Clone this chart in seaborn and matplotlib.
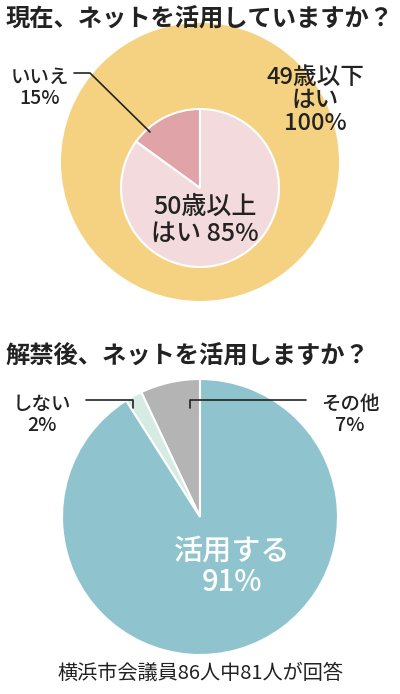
import matplotlib.pyplot as plt
import seaborn as sns

# top chart
inner_labels = ['いいえ', 'はい']
inner_values = [15, 85]
inner_colors = ['#e0a3a8', '#f3dadd']
outer_value = [100]

# bottom chart
after_labels = ['その他', 'しない', '活用する']
after_values = [7, 2, 91]
after_colors = ['#b4b4b4', '#d5ebe3', '#8fc4cf']

H = 694

def Y(y):
    return H - y

def main():
    sns.set_theme(style="white")
    plt.rcParams['font.family'] = ['Noto Sans CJK JP', 'DejaVu Sans']

    fig = plt.figure(figsize=(4, 6.94), dpi=100)
    ax = fig.add_axes([0, 0, 1, 1])
    ax.set_xlim(0, 400)
    ax.set_ylim(0, H)
    ax.set_aspect('equal')
    ax.axis('off')

    txt = '#222222'
    ax.text(6, Y(20), '現在、ネットを活用していますか？', fontsize=17.5, fontweight='bold',
            color=txt, va='center', ha='left')

    ax.pie(outer_value, colors=['#f5d281'], center=(200, Y(162)), radius=139,
           wedgeprops=dict(linewidth=0))
    ax.pie(inner_values, colors=inner_colors, center=(200, Y(188)), radius=79,
           startangle=90, counterclock=True,
           wedgeprops=dict(edgecolor='white', linewidth=1.5))

    ax.text(40, Y(88), 'いいえ\n15%', fontsize=14, fontweight='medium', color=txt,
            ha='center', va='center', linespacing=1.1)
    ax.plot([74, 90, 150], [Y(73), Y(73), Y(132)], color=txt, lw=1.2)
    ax.text(315, Y(100), '49歳以下\nはい\n100%', fontsize=17, fontweight='medium', color=txt,
            ha='center', va='center', linespacing=1.0)
    ax.text(205, Y(220), '50歳以上\nはい 85%', fontsize=18, fontweight='medium', color=txt,
            ha='center', va='center', linespacing=1.05)

    ax.text(6, Y(357), '解禁後、ネットを活用しますか？', fontsize=17.5, fontweight='bold',
            color=txt, va='center', ha='left')

    ax.pie(after_values, colors=after_colors, center=(200, Y(517)), radius=138,
           startangle=90, counterclock=True,
           wedgeprops=dict(edgecolor='white', linewidth=1.5))

    ax.text(42, Y(415), 'しない\n2%', fontsize=14, fontweight='medium', color=txt,
            ha='center', va='center', linespacing=1.1)
    ax.plot([86, 133, 133], [Y(400), Y(400), Y(408)], color=txt, lw=1.2)
    ax.text(350, Y(415), 'その他\n7%', fontsize=14, fontweight='medium', color=txt,
            ha='center', va='center', linespacing=1.1)
    ax.plot([190, 190, 306], [Y(408), Y(400), Y(400)], color=txt, lw=1.2)
    ax.text(232, Y(567), '活用する\n91%', fontsize=21, fontweight='medium', color='white',
            ha='center', va='center', linespacing=1.0)

    ax.text(200, Y(673), '横浜市会議員86人中81人が回答', fontsize=14.5, color=txt, ha='center', va='center')

    ax.set_xlim(0, 400)
    ax.set_ylim(0, H)
    fig.savefig('out.png', dpi=100)

if __name__ == "__main__":
    main()
